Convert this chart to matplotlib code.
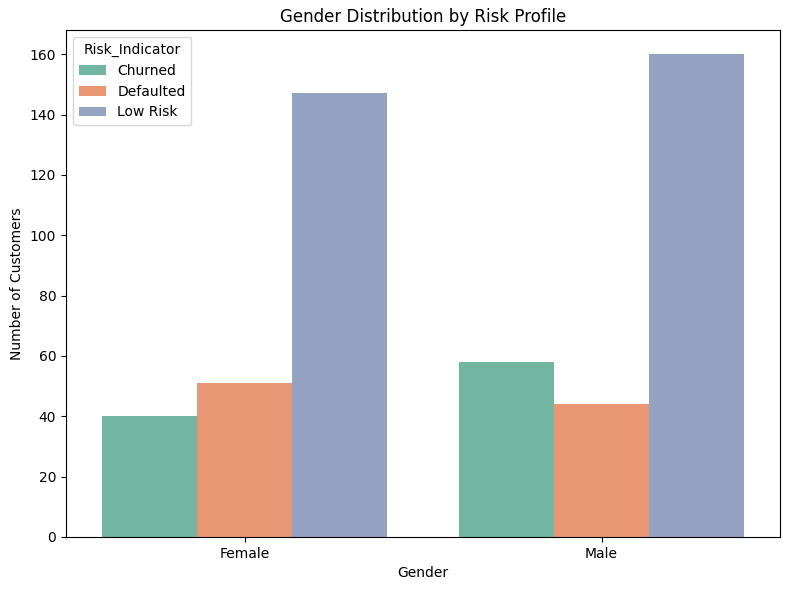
import numpy as np
import matplotlib
matplotlib.use("Agg")
import matplotlib.pyplot as plt
import seaborn as sns

genders = ["Female", "Male"]
risk_levels = ["Churned", "Defaulted", "Low Risk"]
churned = [40, 58]
defaulted = [51, 44]
low_risk = [147, 160]

colors = sns.color_palette("Set2", 3)
colors = [sns.desaturate(c, 0.75) for c in colors]

fig, ax = plt.subplots(figsize=(7.9, 5.9), dpi=100)

width = 0.8 / 3
x = np.arange(len(genders))
for i, (name, vals) in enumerate(zip(risk_levels, [churned, defaulted, low_risk])):
    ax.bar(x + (i - 1) * width, vals, width, color=colors[i], label=name)

ax.set_xticks(x)
ax.set_xticklabels(genders)
ax.set_xlim(-0.5, 1.5)
ax.set_xlabel("Gender")
ax.set_ylabel("Number of Customers")
ax.set_title("Gender Distribution by Risk Profile")
ax.legend(title="Risk_Indicator", loc="upper left")

fig.subplots_adjust(left=66 / 790, right=780 / 790, bottom=1 - 537 / 590, top=1 - 30 / 590)
plt.savefig("out.png")
